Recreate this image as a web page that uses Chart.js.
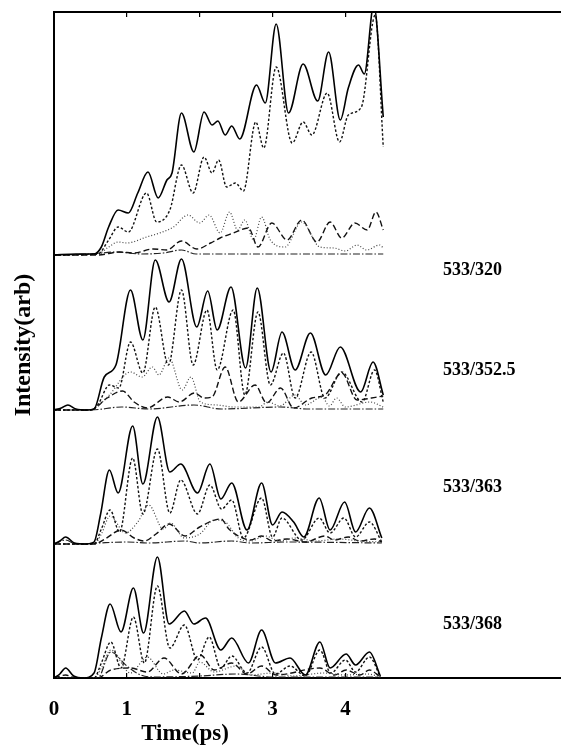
<!DOCTYPE html>
<html>
<head>
<meta charset="utf-8">
<script src="https://cdn.jsdelivr.net/npm/chart.js@4.4.1/dist/chart.umd.min.js"></script>
<style>
  body { margin: 0; background: #fff; }
  canvas { display: block; }
</style>
</head>
<body>
<canvas id="myChart" width="561" height="748"></canvas>
<script>
// tick labels and panel names
var xTicks = [0, 1, 2, 3, 4];
var topTicks = [1, 2, 3, 4];
var panelLabels = ["533/320", "533/352.5", "533/363", "533/368"];
// vertical offset of every panel (same arb units as the intensities)
var panelBase = [423, 268, 134, 0];

// [time(ps), intensity], one array per curve
// panel 1 : 533/320
var p1Total = [[0,0],[0.3,1],[0.55,1],[0.65,8],[0.75,28],[0.88,45],[1.02,42],[1.15,62],[1.29,83],[1.43,57],[1.55,75],[1.62,82],[1.75,142],[1.92,103],[2.06,143],[2.17,130],[2.25,134],[2.35,120],[2.44,129],[2.55,116],[2.78,170],[2.90,152],[3.05,231],[3.22,142],[3.42,191],[3.62,154],[3.77,203],[3.93,135],[4.04,167],[4.18,190],[4.26,181],[4.39,250],[4.52,138]];
var p1Dot = [[0,0],[0.6,1],[0.75,15],[0.88,28],[1.02,23],[1.27,62],[1.41,33],[1.59,45],[1.75,90],[1.91,62],[2.06,98],[2.17,82],[2.26,95],[2.37,68],[2.49,72],[2.60,64],[2.77,133],[2.88,107],[3.05,188],[3.27,112],[3.42,133],[3.54,120],[3.75,162],[3.92,113],[4.04,140],[4.22,148],[4.41,240],[4.52,108]];
var p1Fine = [[0,0],[0.6,1],[0.75,8],[0.88,13],[1.0,12],[1.27,18],[1.45,22],[1.64,28],[1.84,40],[2.0,32],[2.13,40],[2.28,22],[2.41,43],[2.52,25],[2.62,35],[2.74,15],[2.85,38],[2.97,15],[3.17,8],[3.4,33],[3.65,8],[3.84,7],[4.0,4],[4.16,10],[4.29,5],[4.47,10],[4.52,7]];
var p1Dash = [[0,0],[0.6,0],[0.9,3],[1.1,2],[1.36,6],[1.55,5],[1.75,14],[1.96,6],[2.15,12],[2.28,17],[2.46,22],[2.67,27],[2.8,8],[2.99,32],[3.2,15],[3.4,35],[3.61,13],[3.79,33],[3.95,17],[4.13,32],[4.3,25],[4.42,43],[4.52,25]];
var p1DashDot = [[0,0],[0.5,1],[0.86,3],[1.2,1],[1.5,2],[1.75,5],[1.95,1],[2.5,1],[3.0,1],[3.5,1],[4.0,1],[4.52,1]];

// panel 2 : 533/352.5
var p2Total = [[0,0],[0.1,2],[0.19,5],[0.3,1],[0.45,0],[0.55,1],[0.69,33],[0.85,45],[1.05,120],[1.22,70],[1.39,150],[1.58,108],[1.75,151],[1.96,83],[2.11,119],[2.24,80],[2.43,123],[2.63,42],[2.79,122],[2.98,38],[3.13,78],[3.31,40],[3.52,77],[3.73,35],[3.93,63],[4.21,18],[4.38,48],[4.52,15]];
var p2Dot = [[0,0],[0.5,0],[0.6,5],[0.76,25],[0.89,22],[1.05,68],[1.22,37],[1.39,103],[1.57,45],[1.75,120],[1.91,45],[2.1,100],[2.24,40],[2.46,100],[2.62,15],[2.8,98],[2.97,25],[3.15,57],[3.31,12],[3.53,58],[3.72,12],[3.95,38],[4.23,8],[4.4,40],[4.52,8]];
var p2Fine = [[0,0],[0.5,0],[0.6,4],[0.76,15],[1.05,38],[1.21,33],[1.35,43],[1.44,35],[1.58,52],[1.76,20],[1.88,33],[2.01,8],[2.24,5],[2.46,3],[2.81,3],[2.94,8],[3.1,4],[3.31,15],[3.45,5],[3.68,13],[3.78,4],[3.88,12],[4.0,3],[4.34,8],[4.52,3]];
var p2Dash = [[0,0],[0.5,0],[0.73,12],[0.94,19],[1.1,8],[1.28,2],[1.56,13],[1.72,8],[1.93,17],[2.06,12],[2.17,13],[2.35,43],[2.53,8],[2.76,25],[2.92,7],[3.11,22],[3.29,2],[3.54,12],[3.72,15],[3.95,37],[4.16,10],[4.36,12],[4.52,14]];
var p2DashDot = [[0,0],[0.5,0],[0.93,3],[1.3,1],[1.92,5],[2.3,1],[3.1,3],[3.5,1],[4.52,1]];

// panel 3 : 533/363
var p3Total = [[0,0],[0.08,3],[0.16,7],[0.28,1],[0.45,0],[0.55,2],[0.64,30],[0.76,74],[0.88,51],[1.08,118],[1.22,60],[1.42,127],[1.59,72],[1.74,80],[1.97,51],[2.14,80],[2.29,45],[2.44,61],[2.65,14],[2.85,61],[3.0,19],[3.13,32],[3.29,22],[3.43,7],[3.64,46],[3.79,14],[3.99,42],[4.14,12],[4.33,36],[4.5,6]];
var p3Dot = [[0,0],[0.55,0],[0.65,15],[0.77,34],[0.9,12],[1.08,86],[1.22,30],[1.42,95],[1.59,31],[1.74,64],[1.97,30],[2.14,59],[2.3,35],[2.44,44],[2.6,6],[2.85,46],[3.0,7],[3.13,26],[3.4,4],[3.64,26],[3.79,11],[3.98,26],[4.14,7],[4.33,22],[4.5,2]];
var p3Fine = [[0,0],[0.55,0],[0.65,10],[0.77,28],[0.98,11],[1.15,22],[1.3,39],[1.5,15],[1.6,21],[1.79,6],[2.0,10],[2.2,24],[2.35,22],[2.53,6],[2.7,3],[2.9,8],[3.1,3],[3.3,6],[3.6,3],[3.9,5],[4.2,3],[4.5,2]];
var p3Dash = [[0,0],[0.55,0],[0.7,5],[0.92,14],[1.1,6],[1.24,3],[1.4,10],[1.58,20],[1.8,8],[2.0,17],[2.29,25],[2.4,15],[2.53,8],[2.7,4],[2.85,8],[3.0,3],[3.2,5],[3.45,2],[3.72,8],[3.85,4],[4.04,7],[4.2,3],[4.4,5],[4.5,2]];
var p3DashDot = [[0,0],[0.16,4],[0.3,0],[0.6,1],[1.0,2],[1.3,1],[1.8,3],[2.0,1],[2.44,3],[2.7,1],[3.2,2],[4.5,1]];

// panel 4 : 533/368
var p4Total = [[0,0],[0.08,4],[0.16,10],[0.27,2],[0.41,0],[0.55,5],[0.65,40],[0.77,74],[0.92,46],[1.09,90],[1.23,45],[1.42,121],[1.58,54],[1.79,67],[1.92,54],[2.08,60],[2.29,28],[2.44,40],[2.67,15],[2.85,48],[3.04,15],[3.24,20],[3.45,3],[3.65,36],[3.79,10],[4.01,24],[4.14,13],[4.33,26],[4.48,2]];
var p4Dot = [[0,0],[0.55,0],[0.65,15],[0.78,36],[0.92,10],[1.09,61],[1.24,15],[1.42,92],[1.59,30],[1.79,53],[1.97,18],[2.13,41],[2.29,10],[2.44,22],[2.65,5],[2.85,31],[3.04,4],[3.24,12],[3.45,2],[3.65,28],[3.8,5],[4.0,18],[4.14,6],[4.33,21],[4.48,1]];
var p4Fine = [[0,0],[0.55,0],[0.65,10],[0.78,28],[1.05,5],[1.28,21],[1.5,4],[1.65,8],[1.9,5],[2.0,16],[2.2,6],[2.5,12],[2.7,3],[3.0,5],[3.3,2],[3.7,5],[4.0,3],[4.3,4],[4.48,1]];
var p4Dash = [[0,0],[0.16,3],[0.3,0],[0.6,0],[0.78,8],[1.05,10],[1.28,6],[1.51,20],[1.75,4],[2.01,23],[2.2,8],[2.44,15],[2.65,4],[2.85,12],[3.05,3],[3.65,10],[3.85,3],[4.01,8],[4.2,3],[4.33,8],[4.48,1]];
var p4DashDot = [[0,0],[0.6,0],[0.78,26],[1.0,12],[1.19,3],[1.4,1],[2.0,2],[2.5,4],[3.0,1],[4.48,1]];

var panels = [
  [p1Total, p1Dot, p1Fine, p1Dash, p1DashDot],
  [p2Total, p2Dot, p2Fine, p2Dash, p2DashDot],
  [p3Total, p3Dot, p3Fine, p3Dash, p3DashDot],
  [p4Total, p4Dot, p4Fine, p4Dash, p4DashDot]
];

// line look for each curve kind (total, dotted, fine dotted, dashed, dash-dot)
var lineStyles = [
  { color: "#000", width: 1.6, dash: [] },
  { color: "#111", width: 1.4, dash: [2.5, 2] },
  { color: "#444", width: 1.2, dash: [1, 2] },
  { color: "#111", width: 1.4, dash: [6, 3] },
  { color: "#222", width: 1.2, dash: [7, 2, 1.5, 2] }
];

var datasets = [];
panels.forEach(function (curves, p) {
  curves.forEach(function (curve, k) {
    var st = lineStyles[k];
    datasets.push({
      label: panelLabels[p] + " " + k,
      data: curve.map(function (pt) { return { x: pt[0], y: panelBase[p] + pt[1] }; }),
      borderColor: st.color,
      borderWidth: st.width,
      borderDash: st.dash,
      pointRadius: 0,
      fill: false,
      cubicInterpolationMode: "monotone",
      xAxisID: "x",
      yAxisID: "y"
    });
  });
});

var serif = "'Liberation Serif', 'DejaVu Serif', serif";

// panel names and the x-axis title
var textPlugin = {
  id: "panelText",
  afterDraw: function (chart) {
    var ctx = chart.ctx;
    var ys = chart.scales.y;
    ctx.save();
    ctx.fillStyle = "#000";
    ctx.font = "bold 18px " + serif;
    ctx.textAlign = "left";
    ctx.textBaseline = "middle";
    var labelShift = [15, -40, -57, -54];
    panelLabels.forEach(function (txt, i) {
      ctx.fillText(txt, 443, ys.getPixelForValue(panelBase[i]) + labelShift[i]);
    });
    ctx.font = "bold 23px " + serif;
    ctx.textAlign = "center";
    ctx.fillText("Time(ps)", 185, 734);
    ctx.restore();
  }
};

var ctx = document.getElementById("myChart").getContext("2d");
var myChart = new Chart(ctx, {
  type: "line",
  data: { datasets: datasets },
  options: {
    responsive: false,
    animation: false,
    layout: { padding: 0 },
    plugins: { legend: { display: false }, tooltip: { enabled: false } },
    scales: {
      x: {
        type: "linear",
        position: "bottom",
        min: 0,
        max: 6.96,
        afterBuildTicks: function (s) { s.ticks = xTicks.map(function (v) { return { value: v }; }); },
        afterFit: function (s) { s.height = 70; },
        grid: { drawOnChartArea: false, tickLength: -5, color: "#000", lineWidth: 1.2 },
        border: { display: true, color: "#000", width: 2 },
        ticks: { color: "#000", padding: 24, maxRotation: 0, font: { family: serif, size: 21, weight: "bold" } }
      },
      x2: {
        type: "linear",
        position: "top",
        min: 0,
        max: 6.96,
        afterBuildTicks: function (s) { s.ticks = topTicks.map(function (v) { return { value: v }; }); },
        afterFit: function (s) { s.height = 12; },
        grid: { drawOnChartArea: false, tickLength: -5, color: "#000", lineWidth: 1.2 },
        border: { display: true, color: "#000", width: 2 },
        ticks: { display: false }
      },
      y: {
        type: "linear",
        min: 0,
        max: 666,
        afterFit: function (s) { s.width = 54; },
        grid: { display: false },
        border: { display: true, color: "#000", width: 2 },
        ticks: { display: false },
        title: {
          display: true,
          text: "Intensity(arb)",
          color: "#000",
          padding: { top: 9, bottom: 0 },
          font: { family: serif, size: 24, weight: "bold" }
        }
      }
    }
  },
  plugins: [textPlugin]
});
</script>
</body>
</html>
